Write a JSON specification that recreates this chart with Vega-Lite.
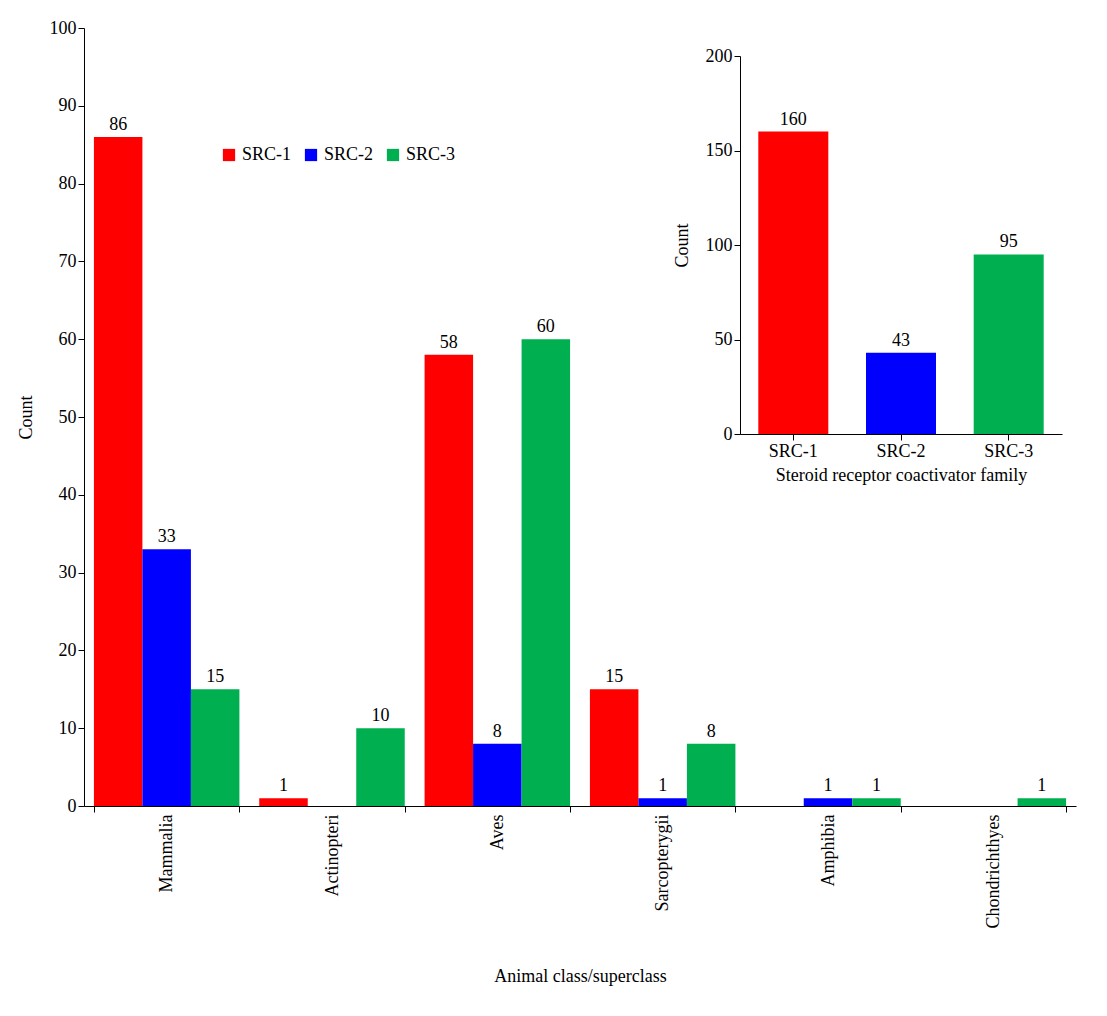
{
  "$schema": "https://vega.github.io/schema/vega-lite/v6.json",
  "width": 992,
  "height": 778,
  "autosize": "none",
  "padding": {"left": 84, "top": 28, "right": 31, "bottom": 210},
  "background": "white",
  "layer": [
    {
      "data": {"values": [
        {"cls": "Mammalia", "src": "SRC-1", "count": 86},
        {"cls": "Mammalia", "src": "SRC-2", "count": 33},
        {"cls": "Mammalia", "src": "SRC-3", "count": 15},
        {"cls": "Actinopteri", "src": "SRC-1", "count": 1},
        {"cls": "Actinopteri", "src": "SRC-3", "count": 10},
        {"cls": "Aves", "src": "SRC-1", "count": 58},
        {"cls": "Aves", "src": "SRC-2", "count": 8},
        {"cls": "Aves", "src": "SRC-3", "count": 60},
        {"cls": "Sarcopterygii", "src": "SRC-1", "count": 15},
        {"cls": "Sarcopterygii", "src": "SRC-2", "count": 1},
        {"cls": "Sarcopterygii", "src": "SRC-3", "count": 8},
        {"cls": "Amphibia", "src": "SRC-2", "count": 1},
        {"cls": "Amphibia", "src": "SRC-3", "count": 1},
        {"cls": "Chondrichthyes", "src": "SRC-3", "count": 1}
      ]},
      "encoding": {
        "x": {"field": "cls", "type": "nominal", "sort": null,
          "scale": {"domain": ["Mammalia", "Actinopteri", "Aves", "Sarcopterygii", "Amphibia", "Chondrichthyes"], "paddingInner": 0.12, "paddingOuter": 0.06},
          "axis": {"orient": "bottom", "title": "Animal class/superclass", "labelAngle": -90, "tickBand": "extent", "titlePadding": 40}},
        "xOffset": {"field": "src", "type": "nominal", "scale": {"domain": ["SRC-1", "SRC-2", "SRC-3"]}},
        "y": {"field": "count", "type": "quantitative",
          "scale": {"domain": [0, 100]},
          "axis": {"orient": "left", "title": "Count", "values": [0, 10, 20, 30, 40, 50, 60, 70, 80, 90, 100], "titlePadding": 14}}
      },
      "layer": [
        {"mark": {"type": "bar"},
         "encoding": {"color": {"field": "src", "type": "nominal",
           "scale": {"domain": ["SRC-1", "SRC-2", "SRC-3"], "range": ["#ff0000", "#0000ff", "#00b050"]},
           "legend": {"title": null, "orient": "none", "legendX": 136, "legendY": 118, "direction": "horizontal", "symbolType": "square", "symbolSize": 150, "labelFontSize": 18, "columnPadding": 10}}}},
        {"mark": {"type": "text", "dy": -12, "fontSize": 18, "font": "Liberation Serif"},
         "encoding": {"text": {"field": "count", "type": "quantitative"}}}
      ]
    },
    {
      "data": {"values": [
        {"fam": "SRC-1", "src": "SRC-1", "total": 160},
        {"fam": "SRC-2", "src": "SRC-2", "total": 43},
        {"fam": "SRC-3", "src": "SRC-3", "total": 95}
      ]},
      "encoding": {
        "x": {"field": "fam", "type": "nominal",
          "scale": {"range": [656, 978], "paddingInner": 0.35, "paddingOuter": 0.17},
          "axis": {"orient": "bottom", "title": "Steroid receptor coactivator family", "labelAngle": 0, "offset": -372, "titlePadding": 6}},
        "y": {"field": "total", "type": "quantitative",
          "scale": {"domain": [0, 200], "range": [406, 28]},
          "axis": {"orient": "left", "title": "Count", "values": [0, 50, 100, 150, 200], "offset": -656, "titlePadding": 14}}
      },
      "layer": [
        {"mark": {"type": "bar"},
         "encoding": {"color": {"field": "src", "type": "nominal", "legend": null}}},
        {"mark": {"type": "text", "dy": -12, "fontSize": 18, "font": "Liberation Serif"},
         "encoding": {"text": {"field": "total", "type": "quantitative"}}}
      ]
    }
  ],
  "resolve": {"scale": {"x": "independent", "y": "independent"}, "axis": {"x": "independent", "y": "independent"}},
  "config": {
    "view": {"stroke": null},
    "font": "Liberation Serif",
    "axis": {"labelFont": "Liberation Serif", "titleFont": "Liberation Serif", "labelFontSize": 18, "titleFontSize": 18, "titleFontWeight": "normal", "labelColor": "black", "titleColor": "black", "domainColor": "black", "tickColor": "black", "grid": false, "tickSize": 6},
    "legend": {"labelFont": "Liberation Serif", "labelColor": "black"}
  }
}
